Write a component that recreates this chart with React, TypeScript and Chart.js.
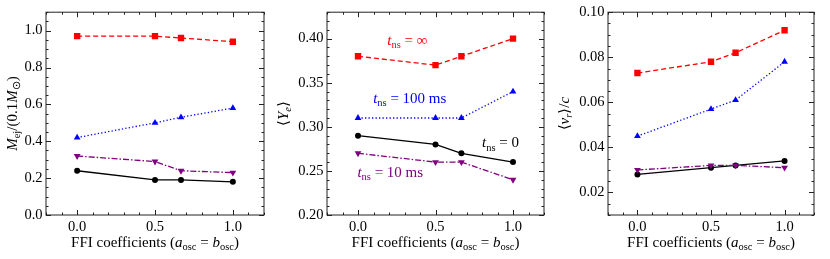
import React, { useEffect, useRef } from "react";
import { Chart, registerables } from "chart.js";
Chart.register(...registerables);

// ---------- data ----------
const ffiCoefficients = [0, 0.5, 0.667, 1.0];

const mejInf = [0.97, 0.97, 0.96, 0.94];
const mej100 = [0.42, 0.5, 0.53, 0.58];
const mej10 = [0.32, 0.29, 0.24, 0.23];
const mej0 = [0.24, 0.19, 0.19, 0.18];

const yeInf = [0.38, 0.37, 0.38, 0.4];
const ye100 = [0.31, 0.31, 0.31, 0.34];
const ye10 = [0.27, 0.26, 0.26, 0.24];
const ye0 = [0.29, 0.28, 0.27, 0.26];

const vrInf = [0.073, 0.078, 0.082, 0.092];
const vr100 = [0.045, 0.057, 0.061, 0.078];
const vr10 = [0.03, 0.032, 0.032, 0.031];
const vr0 = [0.028, 0.031, 0.032, 0.034];

const xTicks = [0, 0.5, 1.0];
const mejTicks = [0, 0.2, 0.4, 0.6, 0.8, 1.0];
const yeTicks = [0.2, 0.25, 0.3, 0.35, 0.4];
const vrTicks = [0.02, 0.04, 0.06, 0.08, 0.1];

const seriesNames = ["t_ns = ∞", "t_ns = 100 ms", "t_ns = 10 ms", "t_ns = 0"];
const annotationTexts = ["∞", "100 ms", "10 ms", "0"];
const annotationX = [0.318, 0.334, 0.208, 0.92];
const annotationY = [0.393, 0.327, 0.243, 0.2766];

// ---------- styles ----------
const FONT = '"Liberation Serif", "Times New Roman", serif';
const colors = ["#ff0000", "#0000ff", "#800080", "#000000"];
const dashes = [[5, 3], [1.3, 2.2], [6, 2, 1.5, 2], []];
const pStyles = ["rect", "triangle", "triangle", "circle"];
const pRot = [0, 0, 180, 0];
const pRad = [4.5, 3.9, 3.9, 3.0];

type Seg = { t: string; it?: boolean; sub?: boolean };

function drawRich(
  ctx: CanvasRenderingContext2D,
  segs: Seg[],
  x: number,
  y: number,
  size: number,
  color: string,
  align: "center" | "left",
  rotate: boolean
) {
  ctx.save();
  ctx.fillStyle = color;
  ctx.textBaseline = "alphabetic";
  ctx.textAlign = "left";
  const fontOf = (s: Seg) => {
    const sz = s.sub ? size * 0.7 : size;
    return `${s.it ? "italic " : ""}${sz}px ${FONT}`;
  };
  let total = 0;
  const widths = segs.map((s) => {
    ctx.font = fontOf(s);
    const w = ctx.measureText(s.t).width;
    total += w;
    return w;
  });
  ctx.translate(x, y);
  if (rotate) ctx.rotate(-Math.PI / 2);
  let cx = align === "center" ? -total / 2 : 0;
  segs.forEach((s, i) => {
    ctx.font = fontOf(s);
    ctx.fillText(s.t, cx, s.sub ? size * 0.22 : 0);
    cx += widths[i];
  });
  ctx.restore();
}

const xTitle: Seg[] = [
  { t: "FFI coefficients (" },
  { t: "a", it: true },
  { t: "osc", sub: true },
  { t: " = " },
  { t: "b", it: true },
  { t: "osc", sub: true },
  { t: ")" },
];

const tnsSegs = (rest: string): Seg[] => [
  { t: "t", it: true },
  { t: "ns", sub: true },
  { t: " = " + rest },
];

type PanelDef = {
  left: number;
  width: number;
  yWidth: number;
  rightPad: number;
  yMin: number;
  yMax: number;
  yTicks: number[];
  yMinor: number;
  decimals: number;
  series: number[][];
  yTitle: Seg[];
  yTitleX: number;
  annotate: boolean;
};

const panels: PanelDef[] = [
  {
    left: 0,
    width: 277,
    yWidth: 46,
    rightPad: 13,
    yMin: 0,
    yMax: 1.1,
    yTicks: mejTicks,
    yMinor: 0.05,
    decimals: 1,
    series: [mejInf, mej100, mej10, mej0],
    yTitle: [
      { t: "M", it: true },
      { t: "ej", sub: true },
      { t: "/(0.1" },
      { t: "M", it: true },
      { t: "⊙", sub: true },
      { t: ")" },
    ],
    yTitleX: 17,
    annotate: false,
  },
  {
    left: 277,
    width: 281,
    yWidth: 50,
    rightPad: 14,
    yMin: 0.2,
    yMax: 0.43,
    yTicks: yeTicks,
    yMinor: 0.01,
    decimals: 2,
    series: [yeInf, ye100, ye10, ye0],
    yTitle: [{ t: "⟨" }, { t: "Y", it: true }, { t: "e", it: true, sub: true }, { t: "⟩" }],
    yTitleX: 11,
    annotate: true,
  },
  {
    left: 558,
    width: 272,
    yWidth: 50,
    rightPad: 16,
    yMin: 0.01,
    yMax: 0.1,
    yTicks: vrTicks,
    yMinor: 0.005,
    decimals: 2,
    series: [vrInf, vr100, vr10, vr0],
    yTitle: [{ t: "⟨" }, { t: "v", it: true }, { t: "r", it: true, sub: true }, { t: "⟩/" }, { t: "c", it: true }],
    yTitleX: 11,
    annotate: false,
  },
];

function Panel({ def }: { def: PanelDef }) {
  const ref = useRef<HTMLCanvasElement>(null);
  useEffect(() => {
    if (!ref.current) return;
    const framePlugin = {
      id: "frame",
      afterDraw(chart: any) {
        const ctx: CanvasRenderingContext2D = chart.ctx;
        const { left, right, top, bottom } = chart.chartArea;
        const xs = chart.scales.x;
        const ys = chart.scales.y;
        ctx.save();
        ctx.strokeStyle = "#222";
        ctx.lineWidth = 1;
        ctx.strokeRect(left, top, right - left, bottom - top);
        ctx.beginPath();
        const major = 5;
        const minor = 2.5;
        for (let i = 0; i <= 14; i++) {
          const v = -0.2 + i * 0.1;
          const px = Math.round(xs.getPixelForValue(v)) + 0.5;
          const isMaj = xTicks.some((t) => Math.abs(t - v) < 1e-6);
          const len = isMaj ? major : minor;
          ctx.moveTo(px, bottom);
          ctx.lineTo(px, bottom - len);
          ctx.moveTo(px, top);
          ctx.lineTo(px, top + len);
        }
        const n = Math.round((def.yMax - def.yMin) / def.yMinor);
        for (let i = 0; i <= n; i++) {
          const v = def.yMin + i * def.yMinor;
          const py = Math.round(ys.getPixelForValue(v)) + 0.5;
          const isMaj = def.yTicks.some((t) => Math.abs(t - v) < 1e-6);
          const len = isMaj ? major : minor;
          ctx.moveTo(left, py);
          ctx.lineTo(left + len, py);
          ctx.moveTo(right, py);
          ctx.lineTo(right - len, py);
        }
        ctx.stroke();
        ctx.restore();

        drawRich(ctx, xTitle, (left + right) / 2, 247, 15, "#000", "center", false);
        drawRich(ctx, def.yTitle, def.yTitleX, (top + bottom) / 2, 15, "#000", "center", true);

        if (def.annotate) {
          annotationTexts.forEach((txt, i) => {
            drawRich(
              ctx,
              tnsSegs(txt),
              xs.getPixelForValue(annotationX[i]),
              ys.getPixelForValue(annotationY[i]),
              15,
              colors[i],
              "center",
              false
            );
          });
        }
      },
    };

    const chart = new Chart(ref.current, {
      type: "line",
      data: {
        datasets: def.series.map((vals, i) => ({
          label: seriesNames[i],
          data: ffiCoefficients.map((x, j) => ({ x, y: vals[j] })),
          borderColor: colors[i],
          backgroundColor: colors[i],
          borderWidth: 1.3,
          borderDash: dashes[i],
          pointStyle: pStyles[i] as any,
          pointRotation: pRot[i],
          pointRadius: pRad[i],
          pointBorderWidth: 0,
          pointBackgroundColor: colors[i],
          tension: 0,
          fill: false,
        })),
      },
      options: {
        animation: false,
        responsive: false,
        maintainAspectRatio: false,
        layout: { padding: { top: 10, left: 0, right: def.rightPad, bottom: 0 } },
        plugins: { legend: { display: false }, tooltip: { enabled: false }, title: { display: false } },
        scales: {
          x: {
            type: "linear",
            min: -0.2,
            max: 1.2,
            grid: { display: false, drawTicks: false },
            border: { display: false },
            afterBuildTicks: (s: any) => {
              s.ticks = xTicks.map((v) => ({ value: v }));
            },
            afterFit: (s: any) => {
              s.height = 44;
            },
            ticks: {
              padding: 3,
              color: "#000",
              font: { family: FONT, size: 14.5 },
              maxRotation: 0,
              callback: (v: any) => Number(v).toFixed(1),
            },
          },
          y: {
            type: "linear",
            min: def.yMin,
            max: def.yMax,
            grid: { display: false, drawTicks: false },
            border: { display: false },
            afterBuildTicks: (s: any) => {
              s.ticks = def.yTicks.map((v) => ({ value: v }));
            },
            afterFit: (s: any) => {
              s.width = def.yWidth;
            },
            ticks: {
              padding: 3.5,
              color: "#000",
              font: { family: FONT, size: 14.5 },
              callback: (v: any) => Number(v).toFixed(def.decimals),
            },
          },
        },
      },
      plugins: [framePlugin],
    });
    return () => chart.destroy();
  }, [def]);
  return (
    <canvas
      ref={ref}
      width={def.width}
      height={259}
      style={{ position: "absolute", left: def.left, top: 0, width: def.width, height: 259, display: "block" }}
    />
  );
}

export default function App() {
  return (
    <div style={{ position: "absolute", left: 0, top: 0, width: 830, height: 259, background: "#fff" }}>
      {panels.map((p, i) => (
        <Panel key={i} def={p} />
      ))}
    </div>
  );
}
